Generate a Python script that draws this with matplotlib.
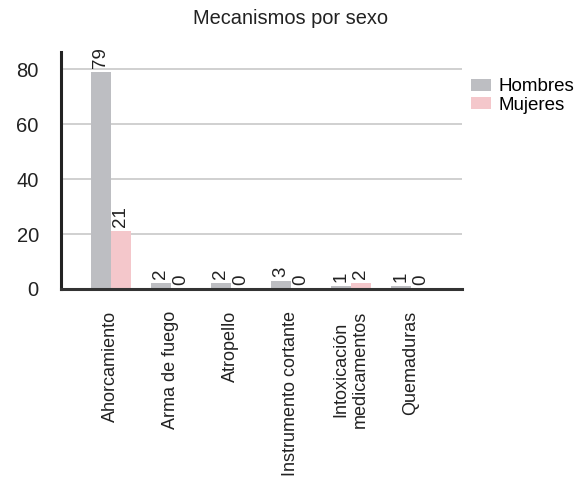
import matplotlib.pyplot as plt
import numpy as np

plt.rcParams['font.family'] = ['Liberation Sans', 'DejaVu Sans']

categorias = ["Ahorcamiento", "Arma de fuego", "Atropello", "Instrumento cortante",
              "Intoxicación\nmedicamentos", "Quemaduras"]
hombres = [79, 2, 2, 3, 1, 1]
mujeres = [21, 0, 0, 0, 2, 0]

fig = plt.figure(figsize=(5.81, 4.87), dpi=100)
ax = fig.add_axes([0.105, 0.4066, 0.69, 0.4866])

x = np.arange(len(categorias))
w = 0.333
b1 = ax.bar(x - w / 2, hombres, w, color="#bdbec2", label="Hombres")
b2 = ax.bar(x + w / 2, mujeres, w, color="#f4c7cb", label="Mujeres")

# etiquetas de valor rotadas
for bars in (b1, b2):
    for r in bars:
        h = r.get_height()
        ax.annotate(str(int(h)), (r.get_x() + r.get_width() / 2, h),
                    xytext=(0, 3), textcoords="offset points", rotation=90,
                    ha="center", va="bottom", fontsize=13.5, color="#222222")

ax.set_xlim(-0.83, 5.85)
ax.set_ylim(0, 86.2)
ax.set_yticks([0, 20, 40, 60, 80])
ax.set_xticks(x)
ax.set_xticklabels(categorias, rotation=90, va="top", ha="center",
                   multialignment="center")
ax.tick_params(axis="both", length=0, colors="#222222")
ax.tick_params(axis="x", pad=16, labelsize=13)
ax.tick_params(axis="y", pad=16, labelsize=14.5)
ax.yaxis.grid(True, color="#c8c8c8", linewidth=1.2)
ax.set_axisbelow(True)
for s in ("top", "right"):
    ax.spines[s].set_visible(False)
ax.spines["left"].set_linewidth(2.2)
ax.spines["bottom"].set_linewidth(2.2)
ax.spines["left"].set_color("#222222")
ax.spines["bottom"].set_color("#333333")

fig.text(0.5, 0.963, "Mecanismos por sexo", ha="center", va="center", fontsize=14.4,
         color="#222222")
ax.legend(loc="upper left", bbox_to_anchor=(0.99, 0.945), frameon=False, fontsize=13.5,
          handlelength=1.05, handleheight=0.6, handletextpad=0.4, labelspacing=0.1,
          borderaxespad=0.3)

plt.savefig("out.png", dpi=100)
